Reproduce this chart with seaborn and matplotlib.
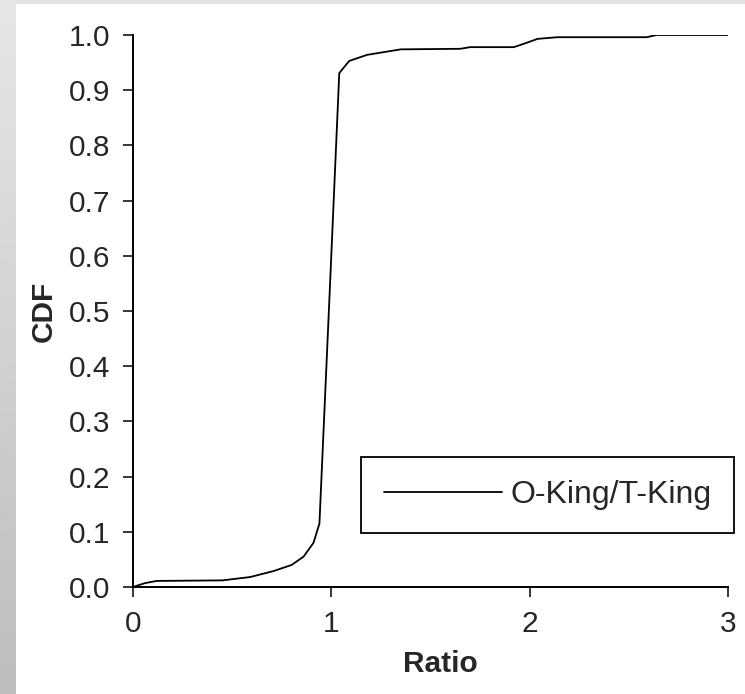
import numpy as np
import pandas as pd
import seaborn as sns
import matplotlib.pyplot as plt
from matplotlib.patches import Rectangle

# values
ratio = [0, 0.06, 0.12, 0.45, 0.59, 0.71, 0.80, 0.86, 0.91, 0.94, 0.99,
         1.04, 1.09, 1.18, 1.35, 1.65, 1.70, 1.92, 1.97, 2.04, 2.14, 2.59, 2.64, 3.0]
cdf = [0, 0.007, 0.011, 0.012, 0.018, 0.029, 0.04, 0.055, 0.08, 0.115, 0.52,
       0.931, 0.953, 0.964, 0.974, 0.975, 0.978, 0.978, 0.984, 0.993, 0.996, 0.996, 1.0, 1.0]
series_name = 'O-King/T-King'
x_ticks = [0, 1, 2, 3]
y_ticks = [0.0, 0.1, 0.2, 0.3, 0.4, 0.5, 0.6, 0.7, 0.8, 0.9, 1.0]

df = pd.DataFrame({'Ratio': ratio, 'CDF': cdf, 'series': series_name})

sns.set_theme(style='ticks')
plt.rcParams['font.family'] = ['Liberation Sans', 'DejaVu Sans']

W, H = 745, 694
fig = plt.figure(figsize=(W / 100, H / 100), dpi=100)
fig.patch.set_facecolor('white')

# slide-like gray border: gradient strip on the left, light band on top
bg = fig.add_axes([0, 0, 16 / W, 1], zorder=-5)
grad = np.linspace(0.90, 0.74, 256).reshape(-1, 1)
bg.imshow(grad, aspect='auto', cmap='gray', vmin=0, vmax=1, extent=[0, 1, 0, 1])
bg.set_axis_off()
fig.patches.append(Rectangle((16 / W, 1 - 4 / H), 1, 4 / H, transform=fig.transFigure,
                             facecolor='#e3e3e3', edgecolor='none', zorder=-5))

ax = fig.add_axes([133 / W, (H - 587) / H, (728 - 133) / W, (587 - 35) / H])
sns.lineplot(data=df, x='Ratio', y='CDF', hue='series', palette=['black'],
             linewidth=1.3, ax=ax)

ax.set_xlim(0, 3)
ax.set_ylim(0, 1)
ax.set_xticks(x_ticks)
ax.set_yticks(y_ticks)
ax.set_yticklabels([f'{v:.1f}' for v in y_ticks])
ax.tick_params(labelsize=21.5, length=7.5, width=1.1, color='black', pad=9)
for s in ['top', 'right']:
    ax.spines[s].set_visible(False)
for s in ['left', 'bottom']:
    ax.spines[s].set_linewidth(1.4)
    ax.spines[s].set_color('black')

ax.set_xlabel('Ratio', fontsize=21.5, fontweight='bold')
ax.set_ylabel('CDF', fontsize=21.5, fontweight='bold', labelpad=8)
ax.xaxis.set_label_coords((440 - 133) / (728 - 133), -(63) / (587 - 35))

leg = ax.legend(loc='lower left', bbox_to_anchor=(361 / W, (H - 533) / H),
                bbox_transform=fig.transFigure, fontsize=23, frameon=True,
                fancybox=False, framealpha=1, edgecolor='black', borderaxespad=0,
                handlelength=3.7, handletextpad=0.25, borderpad=0.72)
leg.get_frame().set_linewidth(1.3)
leg.set_title(None)
for line in leg.get_lines():
    line.set_linewidth(1.3)

fig.savefig('out.png', dpi=100)
